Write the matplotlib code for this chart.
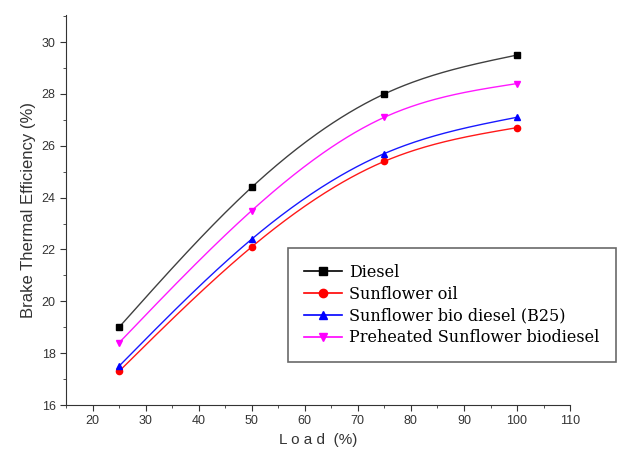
import numpy as np
import matplotlib
matplotlib.use('Agg')
import matplotlib.pyplot as plt
from matplotlib.ticker import MultipleLocator

load = [25, 50, 75, 100]
diesel = [19.0, 24.4, 28.0, 29.5]
sun_oil = [17.3, 22.1, 25.4, 26.7]
b25 = [17.5, 22.4, 25.7, 27.1]
preheated = [18.4, 23.5, 27.1, 28.4]

names = ["Diesel", "Sunflower oil", "Sunflower bio diesel (B25)",
         "Preheated Sunflower biodiesel"]
colors = ["black", "red", "blue", "magenta"]
markers = ["s", "o", "^", "v"]


def smooth(x, y, n=200):
    # natural cubic spline, only for drawing the connecting line
    x = np.asarray(x, float)
    y = np.asarray(y, float)
    k = len(x)
    h = np.diff(x)
    A = np.zeros((k, k))
    b = np.zeros(k)
    A[0, 0] = A[-1, -1] = 1
    for i in range(1, k - 1):
        A[i, i - 1] = h[i - 1]
        A[i, i] = 2 * (h[i - 1] + h[i])
        A[i, i + 1] = h[i]
        b[i] = 6 * ((y[i + 1] - y[i]) / h[i] - (y[i] - y[i - 1]) / h[i - 1])
    M = np.linalg.solve(A, b)
    xs = np.linspace(x[0], x[-1], n)
    idx = np.clip(np.searchsorted(x, xs) - 1, 0, k - 2)
    x0, x1 = x[idx], x[idx + 1]
    hh = x1 - x0
    ys = (M[idx] * (x1 - xs) ** 3 / (6 * hh) + M[idx + 1] * (xs - x0) ** 3 / (6 * hh)
          + (y[idx] / hh - M[idx] * hh / 6) * (x1 - xs)
          + (y[idx + 1] / hh - M[idx + 1] * hh / 6) * (xs - x0))
    return xs, ys


fig = plt.figure(figsize=(6.19, 4.59), dpi=100)
ax = fig.add_axes([0.1066, 0.1176, 0.8144, 0.85])

series = [diesel, sun_oil, b25, preheated]
handles = []
for y, name, c, m in zip(series, names, colors, markers):
    xs, ys = smooth(load, y)
    ax.plot(xs, ys, color=c, lw=1.0, alpha=0.75 if c == "black" else 0.9)
    ax.plot(load, y, linestyle='none', marker=m, color=c, ms=4.5)
    h, = ax.plot([], [], color=c, marker=m, ms=6, lw=1.2, label=name)
    handles.append(h)

ax.set_xlim(15, 110)
ax.set_ylim(16, 31.05)
ax.xaxis.set_major_locator(MultipleLocator(10))
ax.xaxis.set_minor_locator(MultipleLocator(5))
ax.yaxis.set_major_locator(MultipleLocator(2))
ax.yaxis.set_minor_locator(MultipleLocator(1))
ax.spines['top'].set_visible(False)
ax.spines['right'].set_visible(False)
for s in ['left', 'bottom']:
    ax.spines[s].set_color('#333333')
ax.tick_params(which='major', direction='out', length=4, color='#333333',
               labelsize=9, labelcolor='#333333')
ax.tick_params(which='minor', direction='out', length=2.5, color='#333333')
for lab in ax.get_xticklabels() + ax.get_yticklabels():
    lab.set_family('Liberation Sans')

ax.set_xlabel("L o a d  (%)", fontsize=11, family='Liberation Sans', color='#333333')
ax.set_ylabel("Brake Thermal Efficiency (%)", fontsize=12, family='Liberation Sans',
              color='#333333')

leg = ax.legend(handles=handles, loc='lower left', bbox_to_anchor=(0.44, 0.11),
                frameon=True, fancybox=False, edgecolor='#444444',
                prop={'family': 'DejaVu Serif', 'size': 11.5},
                handlelength=2.4, handletextpad=0.45, labelspacing=0.3,
                borderpad=1.0, borderaxespad=0)
leg.get_frame().set_linewidth(1.2)
leg.set_clip_on(False)

fig.savefig("out.png", dpi=100)
